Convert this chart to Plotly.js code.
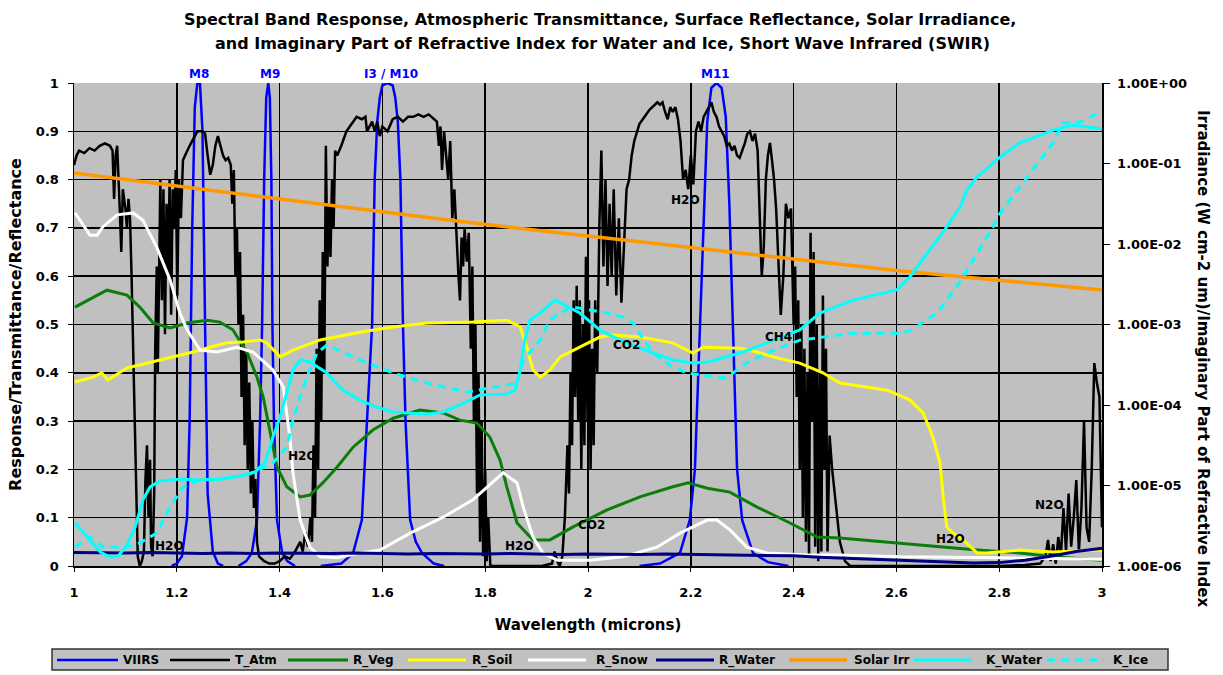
<!DOCTYPE html>
<html>
<head>
<meta charset="utf-8">
<script src="https://cdn.plot.ly/plotly-3.0.1.min.js"></script>
<style>html,body{margin:0;padding:0;background:#fff;}#chart{width:1223px;height:675px;}</style>
</head>
<body>
<div id="chart"></div>
<script>
// ---------------- DATA ----------------
// VIIRS spectral band responses (wavelength in microns)
const m8X  = [1.19,1.20,1.21,1.22,1.225,1.23,1.235,1.24,1.245,1.25,1.255,1.26,1.27,1.28,1.29];
const m8Y  = [0,0.005,0.02,0.1,0.3,0.7,0.95,1.0,1.0,0.9,0.5,0.15,0.03,0.005,0];
const m9X  = [1.32,1.335,1.346,1.356,1.362,1.366,1.370,1.374,1.378,1.381,1.384,1.386,1.389,1.395,1.405,1.415,1.43];
const m9Y  = [0,0.01,0.027,0.095,0.3,0.5,0.8,0.97,1.0,0.97,0.8,0.5,0.3,0.095,0.027,0.01,0];
const m10X = [1.48,1.52,1.543,1.56,1.57,1.58,1.585,1.59,1.595,1.60,1.61,1.62,1.625,1.63,1.635,1.64,1.645,1.654,1.665,1.677,1.70,1.72];
const m10Y = [0,0.005,0.027,0.095,0.3,0.5,0.8,0.92,0.97,0.995,1.0,0.995,0.97,0.92,0.8,0.5,0.3,0.095,0.05,0.027,0.005,0];
const m11X = [2.10,2.14,2.179,2.198,2.208,2.218,2.225,2.232,2.24,2.25,2.26,2.268,2.275,2.282,2.29,2.30,2.321,2.35,2.39];
const m11Y = [0,0.005,0.027,0.095,0.2,0.5,0.75,0.92,0.99,1.0,0.99,0.93,0.75,0.5,0.2,0.095,0.027,0.008,0];

// Atmospheric transmittance
const tAtmX = [1.000,1.005,1.010,1.020,1.030,1.040,1.050,1.060,1.070,1.075,1.078,1.081,1.084,1.086,1.089,1.092,1.095,1.100,1.103,1.106,1.109,1.112,1.115,1.118,1.121,1.124,1.128,1.132,1.136,1.139,1.142,1.145,1.148,1.150,1.153,1.156,1.158,1.161,1.163,1.166,1.168,1.171,1.174,1.177,1.180,1.183,1.186,1.189,1.192,1.195,1.198,1.201,1.204,1.208,1.212,1.216,1.220,1.225,1.230,1.235,1.240,1.250,1.255,1.260,1.265,1.270,1.275,1.280,1.285,1.290,1.295,1.300,1.305,1.308,1.311,1.314,1.317,1.320,1.323,1.326,1.329,1.332,1.335,1.338,1.341,1.344,1.347,1.350,1.353,1.356,1.360,1.370,1.380,1.390,1.400,1.410,1.420,1.430,1.440,1.445,1.450,1.455,1.460,1.463,1.466,1.469,1.472,1.475,1.478,1.481,1.484,1.487,1.490,1.493,1.496,1.499,1.502,1.505,1.508,1.512,1.520,1.530,1.540,1.550,1.560,1.567,1.570,1.575,1.580,1.585,1.590,1.595,1.600,1.610,1.620,1.630,1.640,1.650,1.660,1.670,1.680,1.690,1.700,1.706,1.710,1.713,1.716,1.720,1.724,1.728,1.732,1.736,1.740,1.744,1.748,1.751,1.754,1.757,1.760,1.764,1.768,1.772,1.775,1.778,1.781,1.784,1.787,1.790,1.793,1.796,1.800,1.803,1.806,1.810,1.830,1.850,1.880,1.910,1.930,1.935,1.940,1.945,1.950,1.955,1.960,1.963,1.966,1.969,1.972,1.975,1.978,1.981,1.984,1.987,1.990,1.993,1.996,1.999,2.002,2.005,2.008,2.011,2.014,2.018,2.022,2.026,2.030,2.034,2.038,2.042,2.046,2.050,2.055,2.060,2.065,2.070,2.075,2.080,2.085,2.090,2.095,2.100,2.110,2.120,2.130,2.135,2.140,2.145,2.150,2.155,2.160,2.165,2.170,2.175,2.180,2.185,2.190,2.195,2.200,2.205,2.210,2.215,2.220,2.225,2.230,2.235,2.240,2.245,2.250,2.255,2.260,2.265,2.270,2.275,2.280,2.285,2.290,2.295,2.300,2.305,2.310,2.315,2.320,2.325,2.330,2.334,2.338,2.342,2.346,2.350,2.354,2.358,2.362,2.366,2.370,2.375,2.380,2.385,2.390,2.395,2.400,2.403,2.406,2.409,2.412,2.415,2.418,2.421,2.424,2.427,2.430,2.433,2.436,2.439,2.442,2.445,2.448,2.451,2.454,2.457,2.460,2.463,2.466,2.470,2.475,2.480,2.485,2.490,2.495,2.500,2.510,2.600,2.700,2.800,2.850,2.880,2.890,2.895,2.900,2.905,2.910,2.915,2.920,2.925,2.930,2.935,2.940,2.945,2.950,2.955,2.960,2.965,2.970,2.975,2.980,2.985,2.990,2.995,3.000];
const tAtmY = [0.83,0.85,0.86,0.855,0.865,0.86,0.87,0.875,0.87,0.86,0.76,0.85,0.87,0.80,0.74,0.65,0.78,0.74,0.70,0.76,0.72,0.60,0.45,0.30,0.10,0.02,0.00,0.01,0.03,0.18,0.25,0.10,0.22,0.04,0.02,0.15,0.45,0.62,0.40,0.70,0.80,0.55,0.78,0.48,0.75,0.60,0.80,0.52,0.78,0.70,0.82,0.56,0.80,0.72,0.84,0.85,0.86,0.87,0.88,0.89,0.90,0.90,0.895,0.85,0.81,0.83,0.87,0.89,0.87,0.85,0.84,0.845,0.83,0.75,0.82,0.60,0.70,0.50,0.65,0.35,0.52,0.25,0.45,0.20,0.38,0.15,0.30,0.12,0.18,0.05,0.02,0.01,0.005,0.005,0.01,0.02,0.015,0.03,0.05,0.03,0.07,0.04,0.10,0.05,0.25,0.10,0.45,0.20,0.55,0.30,0.65,0.40,0.87,0.62,0.75,0.64,0.80,0.70,0.86,0.85,0.87,0.90,0.915,0.93,0.925,0.93,0.90,0.91,0.92,0.90,0.92,0.89,0.91,0.90,0.925,0.93,0.92,0.93,0.93,0.935,0.93,0.935,0.925,0.92,0.87,0.91,0.82,0.90,0.85,0.80,0.88,0.72,0.78,0.67,0.60,0.55,0.68,0.62,0.70,0.63,0.69,0.45,0.62,0.30,0.50,0.15,0.40,0.05,0.30,0.02,0.20,0.01,0.10,0.0,0.0,0.0,0.0,0.0,0.005,0.03,0.01,0.0,0.02,0.10,0.25,0.15,0.40,0.25,0.55,0.35,0.58,0.30,0.55,0.20,0.50,0.25,0.64,0.30,0.55,0.20,0.45,0.25,0.55,0.40,0.70,0.86,0.62,0.80,0.58,0.75,0.60,0.78,0.56,0.72,0.545,0.68,0.78,0.80,0.85,0.88,0.90,0.915,0.93,0.945,0.955,0.96,0.955,0.96,0.94,0.925,0.95,0.94,0.95,0.925,0.88,0.80,0.82,0.78,0.85,0.79,0.90,0.92,0.90,0.93,0.94,0.95,0.96,0.94,0.93,0.91,0.90,0.89,0.87,0.875,0.86,0.87,0.85,0.845,0.86,0.875,0.895,0.90,0.88,0.895,0.86,0.71,0.60,0.66,0.80,0.85,0.876,0.84,0.80,0.74,0.65,0.52,0.60,0.75,0.72,0.74,0.50,0.62,0.35,0.55,0.20,0.50,0.10,0.45,0.05,0.40,0.02,0.69,0.30,0.65,0.04,0.50,0.01,0.40,0.03,0.56,0.20,0.45,0.03,0.27,0.20,0.15,0.10,0.05,0.03,0.01,0.0,0.0,0.0,0.0,0.002,0.005,0.02,0.054,0.01,0.045,0.005,0.06,0.02,0.12,0.03,0.15,0.04,0.10,0.178,0.03,0.12,0.30,0.08,0.05,0.20,0.42,0.38,0.35,0.08];

// Vegetation reflectance
const rVegX = [1.002,1.064,1.103,1.128,1.154,1.187,1.220,1.259,1.284,1.309,1.337,1.356,1.368,1.381,1.395,1.414,1.440,1.459,1.484,1.512,1.543,1.582,1.621,1.673,1.718,1.751,1.784,1.809,1.829,1.842,1.862,1.893,1.926,1.971,2.037,2.101,2.165,2.195,2.232,2.276,2.329,2.393,2.446,2.490,2.601,2.710,2.757,2.840,2.905,3.000];
const rVegY = [0.536,0.571,0.561,0.536,0.503,0.493,0.503,0.509,0.505,0.489,0.441,0.391,0.350,0.282,0.205,0.164,0.143,0.147,0.172,0.205,0.246,0.282,0.306,0.323,0.317,0.302,0.296,0.267,0.219,0.164,0.089,0.054,0.054,0.081,0.116,0.143,0.164,0.172,0.161,0.153,0.122,0.089,0.060,0.058,0.048,0.037,0.033,0.027,0.019,0.012];

// Soil reflectance
const rSoilX = [1.002,1.037,1.054,1.066,1.103,1.167,1.232,1.265,1.298,1.329,1.362,1.375,1.401,1.426,1.479,1.556,1.621,1.687,1.751,1.776,1.842,1.868,1.881,1.893,1.907,1.926,1.946,1.984,2.023,2.049,2.101,2.165,2.204,2.224,2.296,2.329,2.360,2.412,2.457,2.490,2.582,2.626,2.652,2.671,2.685,2.691,2.698,2.710,2.730,2.757,2.776,2.840,2.905,3.000];
const rSoilY = [0.381,0.391,0.400,0.385,0.410,0.426,0.443,0.453,0.462,0.464,0.468,0.462,0.433,0.447,0.468,0.484,0.495,0.503,0.505,0.505,0.509,0.495,0.453,0.406,0.391,0.406,0.433,0.453,0.474,0.478,0.474,0.462,0.441,0.453,0.451,0.443,0.433,0.420,0.400,0.379,0.364,0.344,0.317,0.267,0.213,0.143,0.081,0.068,0.054,0.027,0.027,0.033,0.029,0.033];

// Snow reflectance
const rSnowX = [1.002,1.012,1.031,1.045,1.056,1.084,1.115,1.134,1.161,1.187,1.206,1.220,1.232,1.245,1.278,1.317,1.348,1.387,1.407,1.420,1.426,1.440,1.459,1.479,1.512,1.556,1.595,1.654,1.718,1.776,1.835,1.862,1.874,1.893,1.912,1.940,2.004,2.068,2.134,2.179,2.232,2.251,2.276,2.309,2.348,2.426,2.490,2.607,2.802,3.000];
const rSnowY = [0.731,0.716,0.685,0.685,0.702,0.727,0.731,0.716,0.660,0.592,0.524,0.489,0.468,0.447,0.443,0.453,0.443,0.406,0.371,0.267,0.193,0.095,0.039,0.019,0.017,0.027,0.033,0.068,0.101,0.137,0.193,0.172,0.122,0.060,0.027,0.012,0.012,0.019,0.039,0.068,0.095,0.095,0.075,0.039,0.027,0.023,0.023,0.019,0.017,0.014];

// Water reflectance
const rWaterX = [1.0,1.05,1.1,1.15,1.2,1.25,1.3,1.35,1.4,1.45,1.5,1.55,1.6,1.65,1.7,1.75,1.8,1.85,1.9,1.95,2.0,2.05,2.1,2.15,2.2,2.25,2.3,2.35,2.4,2.45,2.5,2.55,2.6,2.65,2.7,2.75,2.8,2.85,2.9,2.95,3.0];
const rWaterY = [0.028,0.027,0.027,0.028,0.027,0.026,0.027,0.026,0.027,0.026,0.026,0.027,0.026,0.025,0.026,0.025,0.025,0.026,0.025,0.024,0.025,0.024,0.024,0.025,0.024,0.023,0.023,0.022,0.021,0.018,0.016,0.014,0.012,0.010,0.008,0.006,0.007,0.012,0.020,0.030,0.037];

// Solar irradiance (W cm-2 um-1), right log axis
const solarX = [1.0,1.1,1.2,1.3,1.4,1.5,1.6,1.7,1.8,1.9,2.0,2.1,2.2,2.3,2.4,2.5,2.6,2.7,2.8,2.9,3.0];
const solarY = [0.0762,0.0631,0.0525,0.0437,0.0363,0.0302,0.0251,0.0209,0.0174,0.0148,0.0126,0.0107,0.0089,0.0076,0.00646,0.0055,0.00468,0.00407,0.00355,0.00309,0.00269];

// Imaginary part of refractive index, water (right log axis)
const kWaterX = [1.002,1.031,1.051,1.070,1.086,1.103,1.119,1.134,1.148,1.167,1.206,1.245,1.284,1.323,1.352,1.372,1.387,1.401,1.414,1.426,1.440,1.459,1.492,1.523,1.556,1.589,1.621,1.687,1.718,1.751,1.790,1.842,1.858,1.868,1.877,1.887,1.907,1.936,1.984,2.023,2.062,2.101,2.165,2.204,2.232,2.296,2.348,2.412,2.451,2.516,2.601,2.626,2.646,2.679,2.698,2.724,2.737,2.757,2.802,2.840,2.905,2.944,3.000];
const kWaterY = [3.42e-6,2.10e-6,1.49e-6,1.29e-6,1.33e-6,1.82e-6,3.05e-6,6.6e-6,9.6e-6,1.14e-5,1.2e-5,1.17e-5,1.2e-5,1.31e-5,1.47e-5,1.96e-5,4.0e-5,7.1e-5,1.41e-4,2.72e-4,3.62e-4,3.42e-4,2.5e-4,1.53e-4,1.15e-4,9.4e-5,8.2e-5,7.7e-5,8.2e-5,1.0e-4,1.33e-4,1.37e-4,1.53e-4,2.72e-4,6.4e-4,1.14e-3,1.39e-3,2.01e-3,1.39e-3,8.55e-4,6.4e-4,5.1e-4,3.62e-4,3.33e-4,3.42e-4,4.43e-4,5.9e-4,8.55e-4,1.39e-3,2.01e-3,2.69e-3,3.89e-3,5.81e-3,1.12e-2,1.63e-2,2.88e-2,4.69e-2,6.8e-2,0.1205,0.18,0.26,0.30,0.268];

// Imaginary part of refractive index, ice (right log axis)
const kIceX = [1.002,1.031,1.056,1.103,1.128,1.161,1.187,1.212,1.245,1.298,1.337,1.387,1.414,1.426,1.440,1.453,1.473,1.492,1.556,1.621,1.687,1.751,1.765,1.862,1.874,1.907,1.926,1.946,1.971,2.004,2.037,2.068,2.088,2.105,2.126,2.165,2.193,2.263,2.282,2.309,2.348,2.412,2.490,2.516,2.607,2.632,2.652,2.679,2.698,2.730,2.757,2.788,2.802,2.835,2.854,2.879,2.905,2.924,2.957,2.996];
const kIceY = [1.72e-6,2.29e-6,1.72e-6,1.72e-6,1.93e-6,2.57e-6,5.4e-6,9.6e-6,1.17e-5,1.24e-5,1.35e-5,1.9e-5,3.0e-5,6.5e-5,1.26e-4,2.23e-4,4.43e-4,5.56e-4,3.62e-4,2.5e-4,1.87e-4,1.53e-4,1.45e-4,1.87e-4,3.62e-4,6.4e-4,1.14e-3,1.39e-3,1.65e-3,1.51e-3,1.39e-3,1.24e-3,1.04e-3,7.0e-4,4.43e-4,2.96e-4,2.5e-4,2.16e-4,2.5e-4,3.33e-4,4.43e-4,6.4e-4,7.4e-4,7.8e-4,7.8e-4,8.55e-4,1.07e-3,1.39e-3,2.01e-3,3.89e-3,7.7e-3,1.63e-2,2.43e-2,4.69e-2,6.6e-2,0.110,0.18,0.318,0.328,0.436];

// Axis ticks / labels
const rightTickVals = [1e-6,1e-5,1e-4,1e-3,1e-2,1e-1,1];
const rightTickText = ['1.00E-06','1.00E-05','1.00E-04','1.00E-03','1.00E-02','1.00E-01','1.00E+00'];

const bandLabels = ['M8','M9','I3 / M10','M11'];
const bandLabelX = [1.243,1.381,1.617,2.249];

const gasLabels = ['H2O','H2O','H2O','CO2','CO2','CH4','H2O','H2O','N2O'];
const gasLabelX = [1.185,1.444,1.866,2.006,2.074,2.370,2.190,2.706,2.897];
const gasLabelY = [0.041,0.228,0.041,0.085,0.458,0.474,0.758,0.056,0.126];

const seriesNames = ['VIIRS','T_Atm','R_Veg','R_Soil','R_Snow','R_Water','Solar Irr','K_Water','K_Ice'];

// ---------------- STYLES ----------------
const FONT = 'DejaVu Sans, Verdana, sans-serif';
const styles = [
  {color:'#0000ff', width:2.5, dash:'solid'},
  {color:'#000000', width:2.5, dash:'solid'},
  {color:'#0a7d0a', width:3, dash:'solid'},
  {color:'#ffff00', width:3, dash:'solid'},
  {color:'#ffffff', width:3, dash:'solid'},
  {color:'#000080', width:3, dash:'solid'},
  {color:'#ff9900', width:3.5, dash:'solid'},
  {color:'#00ffff', width:3, dash:'solid'},
  {color:'#00ffff', width:3, dash:'8px,6px'}
];

// Build VIIRS trace with gaps between bands
const viirsX = [].concat(m8X,[null],m9X,[null],m10X,[null],m11X);
const viirsY = [].concat(m8Y,[null],m9Y,[null],m10Y,[null],m11Y);

const seriesData = [
  {x:viirsX, y:viirsY, axis:'y'},
  {x:tAtmX, y:tAtmY, axis:'y'},
  {x:rVegX, y:rVegY, axis:'y'},
  {x:rSoilX, y:rSoilY, axis:'y'},
  {x:rSnowX, y:rSnowY, axis:'y'},
  {x:rWaterX, y:rWaterY, axis:'y'},
  {x:solarX, y:solarY, axis:'y2'},
  {x:kWaterX, y:kWaterY, axis:'y2'},
  {x:kIceX, y:kIceY, axis:'y2'}
];

const traces = seriesData.map((s,i)=>({
  type:'scatter', mode:'lines', name:seriesNames[i],
  x:s.x, y:s.y, yaxis:s.axis, connectgaps:false,
  line:{color:styles[i].color, width:styles[i].width, dash:styles[i].dash},
  showlegend:false, hoverinfo:'skip'
}));

// plot-area pixel geometry helpers (for the custom legend & titles)
const PL=74, PR=1102, PT=83, PB=566;
const px2paperX = px => (px-PL)/(PR-PL);
const px2paperY = py => (PB-py)/(PB-PT);

const annotations = [];
const shapes = [];

// Title
annotations.push({text:'Spectral Band Response, Atmospheric Transmittance, Surface Reflectance, Solar Irradiance,',
  xref:'paper', yref:'paper', x:px2paperX(600), y:px2paperY(19), xanchor:'center', yanchor:'middle', showarrow:false,
  font:{family:FONT, size:16, color:'#000', weight:'bold'}});
annotations.push({text:'and Imaginary Part of Refractive Index for Water and Ice, Short Wave Infrared (SWIR)',
  xref:'paper', yref:'paper', x:px2paperX(602), y:px2paperY(44), xanchor:'center', yanchor:'middle', showarrow:false,
  font:{family:FONT, size:16, color:'#000', weight:'bold'}});

// Right axis title (reads top to bottom)
annotations.push({text:'Irradiance (W cm-2 um)/Imaginary Part of Refractive Index',
  xref:'paper', yref:'paper', x:px2paperX(1203), y:px2paperY(358), xanchor:'center', yanchor:'middle',
  textangle:90, showarrow:false, font:{family:FONT, size:15, color:'#000', weight:'bold'}});

// Band labels
bandLabels.forEach((t,i)=>annotations.push({text:t, xref:'x', yref:'paper', x:bandLabelX[i], y:1,
  xanchor:'center', yanchor:'bottom', showarrow:false, font:{family:FONT, size:12, color:'#0000ff', weight:'bold'}}));

// Absorber labels
gasLabels.forEach((t,i)=>annotations.push({text:t, xref:'x', yref:'y', x:gasLabelX[i], y:gasLabelY[i],
  xanchor:'center', yanchor:'middle', showarrow:false, font:{family:FONT, size:12, color:'#000', weight:'bold'}}));

// Custom legend
shapes.push({type:'rect', xref:'paper', yref:'paper', x0:px2paperX(52), x1:px2paperX(1168), y0:px2paperY(670), y1:px2paperY(649),
  fillcolor:'#c0c0c0', line:{color:'#333333', width:1.5}});
const legLine = [[57,118],[170,230],[288,348],[408,466],[528,586],[656,714],[789,847],[914,972],[1047,1104]];
const legText = [121,233,351,470,594,717,852,984,1111];
seriesNames.forEach((n,i)=>{
  shapes.push({type:'line', xref:'paper', yref:'paper', x0:px2paperX(legLine[i][0]), x1:px2paperX(legLine[i][1]),
    y0:px2paperY(660), y1:px2paperY(660), line:{color:styles[i].color, width:styles[i].width, dash:styles[i].dash}});
  annotations.push({text:n, xref:'paper', yref:'paper', x:px2paperX(legText[i]), y:px2paperY(660),
    xanchor:'left', yanchor:'middle', showarrow:false, font:{family:FONT, size:12, color:'#000', weight:'bold'}});
});

const layout = {
  width:1223, height:675,
  margin:{l:PL, r:1223-PR, t:PT, b:675-PB, pad:0},
  paper_bgcolor:'#ffffff', plot_bgcolor:'#c0c0c0',
  showlegend:false,
  font:{family:FONT, color:'#000'},
  xaxis:{range:[1,3], tickmode:'linear', tick0:1, dtick:0.2, showgrid:true, gridcolor:'#000', gridwidth:1.5,
    zeroline:false, showline:true, linecolor:'#000', linewidth:1.5, ticks:'outside', ticklen:4, tickcolor:'#000',
    ticklabelstandoff:10,
    tickfont:{family:FONT, size:13, color:'#000', weight:'bold'},
    title:{text:'Wavelength (microns)', standoff:20, font:{family:FONT, size:15, color:'#000', weight:'bold'}}},
  yaxis:{range:[0,1], tickmode:'linear', tick0:0, dtick:0.1, showgrid:true, gridcolor:'#000', gridwidth:1.5,
    zeroline:false, showline:true, linecolor:'#000', linewidth:1.5, ticks:'outside', ticklen:5, tickcolor:'#000',
    ticklabelstandoff:6,
    tickfont:{family:FONT, size:13, color:'#000', weight:'bold'},
    title:{text:'Response/Transmittance/Reflectance', standoff:10, font:{family:FONT, size:16, color:'#000', weight:'bold'}}},
  yaxis2:{overlaying:'y', side:'right', type:'log', range:[-6,0], tickmode:'array', tickvals:rightTickVals, ticktext:rightTickText,
    showgrid:false, zeroline:false, showline:true, linecolor:'#000', linewidth:1.5, ticks:'outside', ticklen:6, tickcolor:'#000',
    ticklabelstandoff:5,
    tickfont:{family:FONT, size:13, color:'#000', weight:'bold'}},
  annotations:annotations,
  shapes:shapes
};

Plotly.newPlot('chart', traces, layout, {displayModeBar:false, staticPlot:true});
</script>
</body>
</html>
